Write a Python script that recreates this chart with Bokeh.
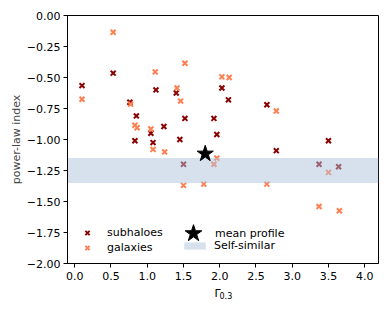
from bokeh.plotting import figure
from bokeh.models import (Legend, LegendItem, Label, CustomJSTickFormatter,
                          FixedTicker, Range1d)
from bokeh.embed import file_html
from bokeh.resources import INLINE

# ---- data ----
sub_x = [0.10, 0.53, 0.76, 0.85, 0.83, 1.05, 1.08, 1.12, 1.23, 1.40, 1.45,
         1.50, 1.52, 1.92, 1.96, 2.03, 2.12, 2.65, 2.78, 3.50, 3.37, 3.64]
sub_y = [-0.565, -0.465, -0.70, -0.81, -1.01, -0.95, -1.025, -0.60, -0.895,
         -0.625, -1.00, -1.20, -0.83, -0.83, -0.96, -0.585, -0.68, -0.72,
         -1.09, -1.01, -1.20, -1.22]

gal_x = [0.10, 0.53, 0.77, 0.83, 0.86, 1.05, 1.08, 1.11, 1.24, 1.41, 1.46,
         1.52, 1.50, 1.78, 1.92, 1.96, 2.03, 2.13, 2.65, 2.78, 3.37, 3.65, 3.50]
gal_y = [-0.675, -0.135, -0.715, -0.885, -0.905, -0.915, -1.08, -0.455,
         -1.10, -0.585, -0.69, -0.385, -1.37, -1.36, -1.20, -1.15, -0.495,
         -0.50, -1.36, -0.77, -1.54, -1.575, -1.265]

mean_x = [1.80]
mean_y = [-1.115]

self_similar = [-1.35, -1.15]   # lower, upper edge of band

x_lim = [-0.1, 4.19]
y_lim = [-2.0, 0.0]
x_ticks = [0.0, 0.5, 1.0, 1.5, 2.0, 2.5, 3.0, 3.5, 4.0]
y_ticks = [-2.0, -1.75, -1.5, -1.25, -1.0, -0.75, -0.5, -0.25, 0.0]

SUB_C = "#8b0000"
GAL_C = "#ff7f50"
BAND_C = "lightsteelblue"
FONT = "DejaVu Sans"

p = figure(width=390, height=312, output_backend="svg", toolbar_location=None,
           x_range=Range1d(*x_lim), y_range=Range1d(*y_lim),
           min_border_left=67, min_border_right=12, min_border_top=15,
           min_border_bottom=49)
p.background_fill_color = "white"
p.border_fill_color = "white"
p.grid.visible = False
p.outline_line_color = "black"
p.outline_line_width = 1
p.outline_line_alpha = 1

for ax in (p.xaxis, p.yaxis):
    ax.major_tick_out = 4
    ax.major_tick_in = 0
    ax.minor_tick_out = 0
    ax.minor_tick_in = 0
    ax.axis_line_color = "black"
    ax.major_tick_line_color = "black"
    ax.major_label_text_font = FONT
    ax.major_label_text_font_size = "11px"
    ax.major_label_text_color = "black"

p.xaxis.ticker = FixedTicker(ticks=x_ticks)
p.yaxis.ticker = FixedTicker(ticks=y_ticks)
p.xaxis.formatter = CustomJSTickFormatter(code="return tick.toFixed(1);")
p.yaxis.formatter = CustomJSTickFormatter(
    code="return tick.toFixed(2).replace('-', '\u2212');")
p.xaxis.major_label_standoff = 4
p.yaxis.major_label_standoff = 3

p.yaxis.axis_label = "power-law index"
p.yaxis.axis_label_text_font = FONT
p.yaxis.axis_label_text_font_size = "11px"
p.yaxis.axis_label_text_font_style = "normal"
p.yaxis.axis_label_standoff = 1

# ---- glyphs ----
r_sub = p.scatter(sub_x, sub_y, marker="x", size=7, line_color=SUB_C,
                  line_width=2)
r_gal = p.scatter(gal_x, gal_y, marker="x", size=7, line_color=GAL_C,
                  line_width=2)
band_mid = (self_similar[0] + self_similar[1]) / 2
band_h = self_similar[1] - self_similar[0]
r_band = p.hbar(y=[band_mid], height=[band_h], left=[x_lim[0]],
                right=[x_lim[1]], fill_color=BAND_C, fill_alpha=0.5,
                line_color=None)
r_star = p.scatter(mean_x, mean_y, marker="star", size=17,
                   fill_color="black", line_color="black")

# ---- legends ----
common = dict(border_line_color=None, background_fill_alpha=0, padding=0,
              margin=0, spacing=0, label_text_font=FONT,
              label_text_font_size="11px", label_text_color="black")

leg1 = Legend(items=[LegendItem(label="subhaloes", renderers=[r_sub]),
                     LegendItem(label="galaxies", renderers=[r_gal])],
              location=(10, 8), glyph_width=20, glyph_height=15,
              label_height=15, label_standoff=10, **common)
leg2 = Legend(items=[LegendItem(label="mean profile", renderers=[r_star])],
              location=(104, 8), glyph_width=44, glyph_height=44,
              label_height=44, label_standoff=-1, **common)
leg3 = Legend(items=[LegendItem(label="Self-similar", renderers=[r_band])],
              location=(114, 11), glyph_width=27, glyph_height=9,
              label_height=9, label_standoff=6, **common)
for lg in (leg1, leg2, leg3):
    p.add_layout(lg)

# ---- x axis label: Gamma with subscript (canvas pixel units, below panel) ----
p.add_layout(Label(x=214, y=292.5, x_units="canvas", y_units="canvas",
                   text="\u0393", text_font=FONT, text_font_size="11px",
                   text_baseline="alphabetic", text_color="black"), "below")
p.add_layout(Label(x=219, y=295, x_units="canvas", y_units="canvas",
                   text="0.3", text_font=FONT, text_font_size="8px",
                   text_baseline="alphabetic", text_color="black"), "below")

open("out.html", "w").write(file_html(p, INLINE))
